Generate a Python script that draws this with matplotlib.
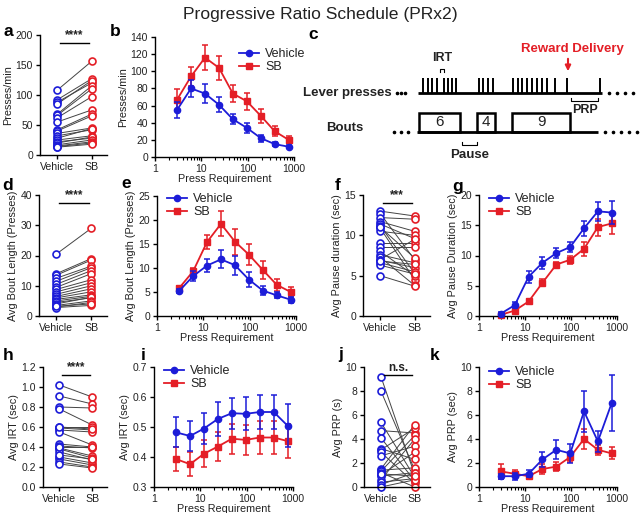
import matplotlib
matplotlib.use("Agg")
import matplotlib.pyplot as plt
import numpy as np
from matplotlib.ticker import FixedLocator, LogLocator, NullFormatter, FuncFormatter
from matplotlib.patches import Rectangle
from matplotlib.lines import Line2D

plt.rcParams['font.family'] = ['Liberation Sans', 'DejaVu Sans']

# ---------------- data ----------------
press_req = [3, 6, 12, 24, 48, 96, 192, 384, 768]
groups = ["Vehicle", "SB"]

# paired panels (per-subject)
a_veh = [108, 92, 88, 85, 68, 66, 62, 55, 42, 40, 36, 32, 28, 25, 22, 20, 17, 15, 14, 13]
a_sb = [156, 127, 120, 124, 115, 110, 97, 75, 68, 65, 45, 42, 44, 32, 28, 30, 25, 22, 20, 18]
d_veh = [20.5, 14, 13.5, 12.5, 11.5, 10.5, 9.5, 8.8, 8, 7.2, 6.5, 6, 5.5, 5, 4.5, 4, 3.5, 3, 2.8, 3.2]
d_sb = [29, 19, 18.5, 16.5, 16, 15, 14, 12, 11, 10, 9, 8, 7, 6.5, 6, 6.2, 5, 4.5, 3.5, 4]
f_veh = [13.0, 12.7, 12.2, 11.7, 11.4, 11.2, 10.9, 10.5, 9.0, 8.5, 8.0, 7.6, 7.3, 6.9, 6.6, 6.3, 5.0, 7.0, 11.0, 6.8]
f_sb = [12.4, 7.0, 12.0, 10.5, 9.6, 5.3, 4.5, 10.0, 9.0, 8.5, 5.0, 6.6, 3.8, 6.0, 5.5, 5.2, 3.7, 9.5, 7.2, 6.4]
h_veh = [1.02, 0.91, 0.80, 0.78, 0.60, 0.59, 0.57, 0.55, 0.43, 0.41, 0.39, 0.38, 0.35, 0.30, 0.28, 0.25, 0.23, 0.60, 0.40, 0.32]
h_sb = [0.90, 0.83, 0.79, 0.62, 0.60, 0.57, 0.55, 0.42, 0.40, 0.39, 0.31, 0.29, 0.27, 0.24, 0.22, 0.20, 0.19, 0.58, 0.40, 0.28]
j_veh = [9.2, 8.0, 5.4, 4.7, 4.1, 3.2, 3.1, 2.9, 2.6, 1.5, 1.4, 1.3, 1.2, 1.0, 0.9, 0.6, 0.4, 0.2, 0.0, 1.1]
j_sb = [1.0, 1.4, 0.8, 4.5, 0.5, 2.3, 4.9, 0.3, 3.4, 5.2, 1.6, 4.3, 0.0, 2.9, 1.2, 4.0, 0.7, 1.2, 0.6, 0.9]

# dose-response panels (mean, sem)
b_veh = [55, 80, 74, 61, 44, 34, 22, 15, 12]
b_veh_err = [9, 10, 11, 9, 6, 6, 4, 2, 2]
b_sb = [67, 94, 116, 104, 74, 65, 48, 30, 20]
b_sb_err = [12, 11, 15, 14, 10, 10, 8, 6, 4]
e_veh = [5.2, 8.3, 10.5, 11.8, 10.6, 7.6, 5.3, 4.3, 3.4]
e_veh_err = [0.4, 1.0, 1.3, 1.9, 2.0, 1.6, 1.0, 0.6, 0.6]
e_sb = [5.8, 9.3, 15.4, 19.2, 15.5, 12.8, 9.6, 6.5, 5.0]
e_sb_err = [0.4, 0.6, 1.5, 2.6, 2.7, 2.2, 1.8, 1.2, 1.0]
g_veh = [0.4, 1.8, 6.5, 8.8, 10.4, 11.4, 14.5, 17.3, 17.1]
g_veh_err = [0.2, 0.5, 1.0, 1.0, 0.8, 0.8, 1.2, 1.6, 1.9]
g_sb = [0.2, 0.9, 2.4, 5.5, 8.5, 9.3, 11.1, 14.7, 15.3]
g_sb_err = [0.1, 0.3, 0.4, 0.6, 0.5, 0.7, 1.1, 1.4, 1.8]
i_veh = [0.482, 0.470, 0.495, 0.527, 0.546, 0.544, 0.550, 0.550, 0.504]
i_veh_err = [0.05, 0.05, 0.052, 0.056, 0.052, 0.055, 0.057, 0.058, 0.072]
i_sb = [0.393, 0.376, 0.411, 0.435, 0.461, 0.457, 0.465, 0.465, 0.453]
i_sb_err = [0.04, 0.04, 0.045, 0.048, 0.05, 0.05, 0.055, 0.055, 0.057]
k_veh = [0.9, 0.9, 1.1, 2.3, 3.1, 2.8, 6.3, 3.8, 7.0]
k_veh_err = [0.2, 0.3, 0.3, 0.6, 0.8, 0.8, 1.7, 0.9, 2.3]
k_sb = [1.3, 1.1, 0.9, 1.5, 1.7, 2.5, 4.0, 3.1, 2.8]
k_sb_err = [0.6, 0.3, 0.2, 0.4, 0.4, 0.4, 0.8, 0.4, 0.5]

BLUE = '#1c1cd8'
RED = '#e41e26'
TXT = '#222222'
W, H = 640, 513
TICK_FS = 7.5
LAB_FS = 7.8

fig = plt.figure(figsize=(6.4, 5.13), dpi=100)


def px_axes(L, R, T, B):
    return fig.add_axes([L / W, 1 - B / H, (R - L) / W, (B - T) / H])


def style(ax):
    for s in ['top', 'right']:
        ax.spines[s].set_visible(False)
    for s in ['left', 'bottom']:
        ax.spines[s].set_linewidth(1.0)
        ax.spines[s].set_color('black')
    ax.tick_params(direction='out', length=3, width=1.0, labelsize=TICK_FS, colors='black',
                   labelcolor=TXT, pad=2)


def paired(ax, veh, sb, ylim, yticks, ylabel, sig, fmt=None):
    style(ax)
    for v, s in zip(veh, sb):
        ax.plot([0, 1], [v, s], color='#444444', lw=0.7, zorder=1)
    ax.plot(np.zeros(len(veh)), veh, 'o', mfc='white', mec=BLUE, mew=1.2, ms=5, zorder=2, clip_on=False)
    ax.plot(np.ones(len(sb)), sb, 'o', mfc='white', mec=RED, mew=1.2, ms=5, zorder=2, clip_on=False)
    ax.set_xlim(-0.5, 1.45)
    ax.set_ylim(*ylim)
    ax.set_yticks(yticks)
    if fmt:
        ax.yaxis.set_major_formatter(FuncFormatter(lambda v, p: fmt % v))
    ax.set_xticks([0, 1])
    ax.set_xticklabels(groups, fontsize=7.6)
    ax.set_ylabel(ylabel, fontsize=LAB_FS, color=TXT, labelpad=2)
    rng = ylim[1] - ylim[0]
    ybar = ylim[1] - 0.07 * rng
    ax.plot([0.08, 0.92], [ybar, ybar], color='black', lw=1.0, clip_on=False)
    ax.text(0.5, ybar + 0.015 * rng, sig, ha='center', va='bottom', fontsize=8.5,
            fontweight='bold', color=TXT, clip_on=False)


def curve(ax, veh, veh_err, sb, sb_err, ylim, yticks, ylabel, fmt=None):
    style(ax)
    ax.set_xscale('log')
    ax.errorbar(press_req, sb, yerr=sb_err, color=RED, marker='s', ms=4.5, lw=1.3,
                capsize=2.5, elinewidth=1.1, capthick=1.1, zorder=2, clip_on=False)
    ax.errorbar(press_req, veh, yerr=veh_err, color=BLUE, marker='o', ms=4.5, lw=1.3,
                capsize=2.5, elinewidth=1.1, capthick=1.1, zorder=3, clip_on=False)
    ax.set_xlim(1, 1000)
    ax.set_ylim(*ylim)
    ax.set_yticks(yticks)
    if fmt:
        ax.yaxis.set_major_formatter(FuncFormatter(lambda v, p: fmt % v))
    ax.xaxis.set_major_locator(FixedLocator([1, 10, 100, 1000]))
    ax.xaxis.set_major_formatter(FuncFormatter(lambda v, p: '%d' % v))
    ax.xaxis.set_minor_locator(LogLocator(base=10, subs=np.arange(2, 10)))
    ax.xaxis.set_minor_formatter(NullFormatter())
    ax.tick_params(axis='x', which='minor', length=2, width=0.8)
    ax.set_xlabel('Press Requirement', fontsize=LAB_FS, color=TXT, labelpad=0)
    ax.set_ylabel(ylabel, fontsize=LAB_FS, color=TXT, labelpad=2)
    return ax


def legend(ax, x, y):
    handles = [Line2D([], [], color=BLUE, marker='o', ms=4.5, lw=1.3),
               Line2D([], [], color=RED, marker='s', ms=4.5, lw=1.3)]
    leg = ax.legend(handles, groups, loc='upper left',
                    bbox_to_anchor=(x / W, 1 - y / H), bbox_transform=fig.transFigure,
                    frameon=False, fontsize=9, handlelength=1.6, handletextpad=0.5,
                    labelspacing=0.1, borderpad=0, borderaxespad=0)
    for t in leg.get_texts():
        t.set_color(TXT)


# row 1
ax = px_axes(40, 107, 35, 155)
paired(ax, a_veh, a_sb, (0, 200), [0, 50, 100, 150, 200], 'Presses/min', '****')
ax = px_axes(155, 294, 37, 157)
curve(ax, b_veh, b_veh_err, b_sb, b_sb_err, (0, 140), range(0, 141, 20), 'Presses/min')
legend(ax, 239, 48)

# row 2
ax = px_axes(39, 107, 195, 316)
paired(ax, d_veh, d_sb, (0, 40), [0, 10, 20, 30, 40], 'Avg Bout Length (Presses)', '****')
ax = px_axes(157, 296, 196, 316)
curve(ax, e_veh, e_veh_err, e_sb, e_sb_err, (0, 25), range(0, 26, 5), 'Avg Bout Length (Presses)')
legend(ax, 167, 193)
ax = px_axes(363, 430, 195, 316)
paired(ax, f_veh, f_sb, (0, 15), [0, 5, 10, 15], 'Avg Pause duration (sec)', '***')
ax = px_axes(479, 617, 195, 316)
curve(ax, g_veh, g_veh_err, g_sb, g_sb_err, (0, 20), range(0, 21, 5), 'Avg Pause Duration (sec)')
legend(ax, 489, 193)

# row 3
ax = px_axes(43, 107, 367, 487)
paired(ax, h_veh, h_sb, (0, 1.2), np.arange(0, 1.21, 0.2), 'Avg IRT (sec)', '****', fmt='%.1f')
ax = px_axes(154, 293, 367, 487)
curve(ax, i_veh, i_veh_err, i_sb, i_sb_err, (0.3, 0.7), [0.3, 0.4, 0.5, 0.6, 0.7], 'Avg IRT (sec)', fmt='%.1f')
legend(ax, 164, 365)
ax = px_axes(364, 430, 367, 487)
paired(ax, j_veh, j_sb, (0, 10), [0, 2, 4, 6, 8, 10], 'Avg PRP (s)', 'n.s.')
ax = px_axes(479, 617, 367, 487)
curve(ax, k_veh, k_veh_err, k_sb, k_sb_err, (0, 10), [0, 2, 4, 6, 8, 10], 'Avg PRP (sec)')
legend(ax, 489, 366)

# panel letters
letters = [('a', 3, 32), ('b', 110, 32), ('c', 308, 35), ('d', 2, 185), ('e', 121, 184),
           ('f', 335, 186), ('g', 452, 186), ('h', 3, 355), ('i', 141, 355),
           ('j', 338, 355), ('k', 430, 355)]
for s, x, y in letters:
    fig.text(x / W, 1 - y / H, s, fontsize=12.5, fontweight='bold', ha='left', va='center', color='black')

fig.text(0.5, 1 - 14 / H, 'Progressive Ratio Schedule (PRx2)', ha='center', va='center',
         fontsize=12.6, color=TXT)

# ---------------- panel c diagram ----------------
cx = fig.add_axes([290 / W, 1 - 170 / H, 350 / W, 140 / H])
cx.set_xlim(290, 640)
cx.set_ylim(170, 30)
cx.axis('off')

lever_y = 93
press_x = [423, 428, 432, 437, 444, 448, 452, 456,
           479, 483, 488, 493,
           513, 518, 522, 527, 532, 537, 542, 547, 555,
           567, 600]
cx.plot([418, 602], [lever_y, lever_y], color='black', lw=2, solid_capstyle='butt')
for px in press_x:
    cx.plot([px, px], [lever_y, lever_y - 15], color='black', lw=1.4, solid_capstyle='butt')
cx.plot([397, 401, 405], [lever_y] * 3, 'o', color='black', ms=1.6)
cx.plot([609, 617, 625, 633], [lever_y] * 4, 'o', color='black', ms=1.6)
cx.text(392, lever_y, 'Lever presses', ha='right', va='center', fontsize=9.5, fontweight='bold', color=TXT)

# IRT bracket
cx.plot([440, 440, 444, 444], [72, 69, 69, 72], color='black', lw=0.8)
cx.text(442, 58, 'IRT', ha='center', va='center', fontsize=9, fontweight='bold', color=TXT)

# reward delivery
cx.text(572, 49, 'Reward Delivery', ha='center', va='center', fontsize=9.5, fontweight='bold', color=RED)
cx.annotate('', xy=(568, 74), xytext=(568, 56),
            arrowprops=dict(arrowstyle='-|>', color=RED, lw=1.5, mutation_scale=8))

# PRP bracket
cx.plot([571, 571, 598, 598], [98, 101, 101, 98], color='black', lw=0.8)
cx.text(585, 110, 'PRP', ha='center', va='center', fontsize=9, fontweight='bold', color=TXT)

# bouts
bout_y = 132
cx.plot([417, 598], [bout_y, bout_y], color='black', lw=2, solid_capstyle='butt')
cx.plot([394, 401, 408], [bout_y] * 3, 'o', color='black', ms=1.6)
cx.plot([605, 613, 621, 629, 637], [bout_y] * 5, 'o', color='black', ms=1.6)
cx.text(345, 128, 'Bouts', ha='center', va='center', fontsize=9.5, fontweight='bold', color=TXT)
boxes = [(419, 460, '6'), (477, 495, '4'), (512, 570, '9')]
for x0, x1, lab in boxes:
    cx.add_patch(Rectangle((x0, 113), x1 - x0, bout_y - 113, fill=False, ec='black', lw=1.8))
    cx.text((x0 + x1) / 2, 122.5, lab, ha='center', va='center', fontsize=11, color=TXT)

# pause bracket
cx.plot([462, 462, 477, 477], [142, 145, 145, 142], color='black', lw=0.8)
cx.text(470, 155, 'Pause', ha='center', va='center', fontsize=9.5, fontweight='bold', color=TXT)

fig.savefig('out.png', dpi=100)
